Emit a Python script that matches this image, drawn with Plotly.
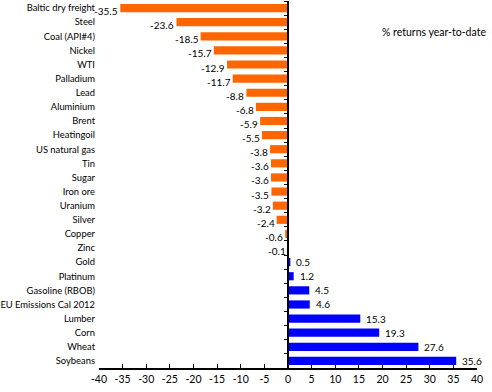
import plotly.graph_objects as go

categories = ["Baltic dry freight", "Steel", "Coal (API#4)", "Nickel", "WTI", "Palladium",
              "Lead", "Aluminium", "Brent", "Heatingoil", "US natural gas", "Tin", "Sugar",
              "Iron ore", "Uranium", "Silver", "Copper", "Zinc", "Gold", "Platinum",
              "Gasoline (RBOB)", "EU Emissions Cal 2012", "Lumber", "Corn", "Wheat", "Soybeans"]
values = [-35.5, -23.6, -18.5, -15.7, -12.9, -11.7, -8.8, -6.8, -5.9, -5.5, -3.8, -3.6, -3.6,
          -3.5, -3.2, -2.4, -0.6, -0.1, 0.5, 1.2, 4.5, 4.6, 15.3, 19.3, 27.6, 35.6]
x_ticks = [-40, -35, -30, -25, -20, -15, -10, -5, 0, 5, 10, 15, 20, 25, 30, 35, 40]
legend_text = "% returns year-to-date"

ORANGE = "#FF6600"
BLUE = "#0000FF"
FONT = "Liberation Sans Narrow, Arial Narrow, Lato, sans-serif"

colors = [ORANGE if v < 0 else BLUE for v in values]
n = len(categories)

fig = go.Figure()
fig.add_trace(go.Bar(
    x=values, y=categories, orientation="h",
    marker=dict(color=colors, line=dict(width=0)),
    hoverinfo="x+y", showlegend=False,
))
# invisible helper trace for the zero-line axis with boundary ticks
fig.add_trace(go.Scatter(x=[0], y=[0], yaxis="y2", mode="markers",
                         marker=dict(opacity=0), showlegend=False, hoverinfo="skip"))

for c, v in zip(categories, values):
    txt = f"{v:.1f}"
    if v < 0:
        fig.add_annotation(x=v, y=c, text=txt, showarrow=False, xanchor="right",
                           xshift=0, yshift=-3, font=dict(family=FONT, size=10, color="black"))
    else:
        fig.add_annotation(x=v, y=c, text=txt, showarrow=False, xanchor="left",
                           xshift=4, font=dict(family=FONT, size=10, color="black"))

fig.add_annotation(xref="paper", yref="paper", x=1.029, y=0.937, xanchor="right",
                   text=legend_text, showarrow=False,
                   font=dict(family=FONT, size=10.5, color="black"))

fig.update_layout(
    width=492, height=392,
    margin=dict(l=99, r=15, t=1, b=24),
    paper_bgcolor="white", plot_bgcolor="white",
    bargap=0.42,
    font=dict(family=FONT, size=10, color="black"),
    xaxis=dict(range=[-40, 40], tickvals=x_ticks, ticktext=[str(t) for t in x_ticks],
               showgrid=False, zeroline=False, showline=True, linecolor="black",
               linewidth=2, ticks="inside", ticklen=4, tickcolor="black", tickwidth=1,
               automargin=False,
               tickfont=dict(family=FONT, size=10.5, color="black")),
    yaxis=dict(type="category", categoryorder="array", categoryarray=categories,
               range=[n - 0.5, -0.5], showgrid=False, zeroline=False, showline=False,
               ticks="", ticklabelstandoff=3, automargin=False,
               tickfont=dict(family=FONT, size=9.4, color="black")),
    yaxis2=dict(overlaying="y", anchor="free", position=0.5, side="left",
                range=[n - 0.5, -0.5], tick0=0.5, dtick=1, showticklabels=False,
                showgrid=False, zeroline=False, showline=True, linecolor="black",
                linewidth=2, ticks="outside", ticklen=3, tickcolor="black", tickwidth=1,
                automargin=False),
)

fig.write_html("out.html", config={"displayModeBar": False},
               post_script="document.body.style.margin='0';")
